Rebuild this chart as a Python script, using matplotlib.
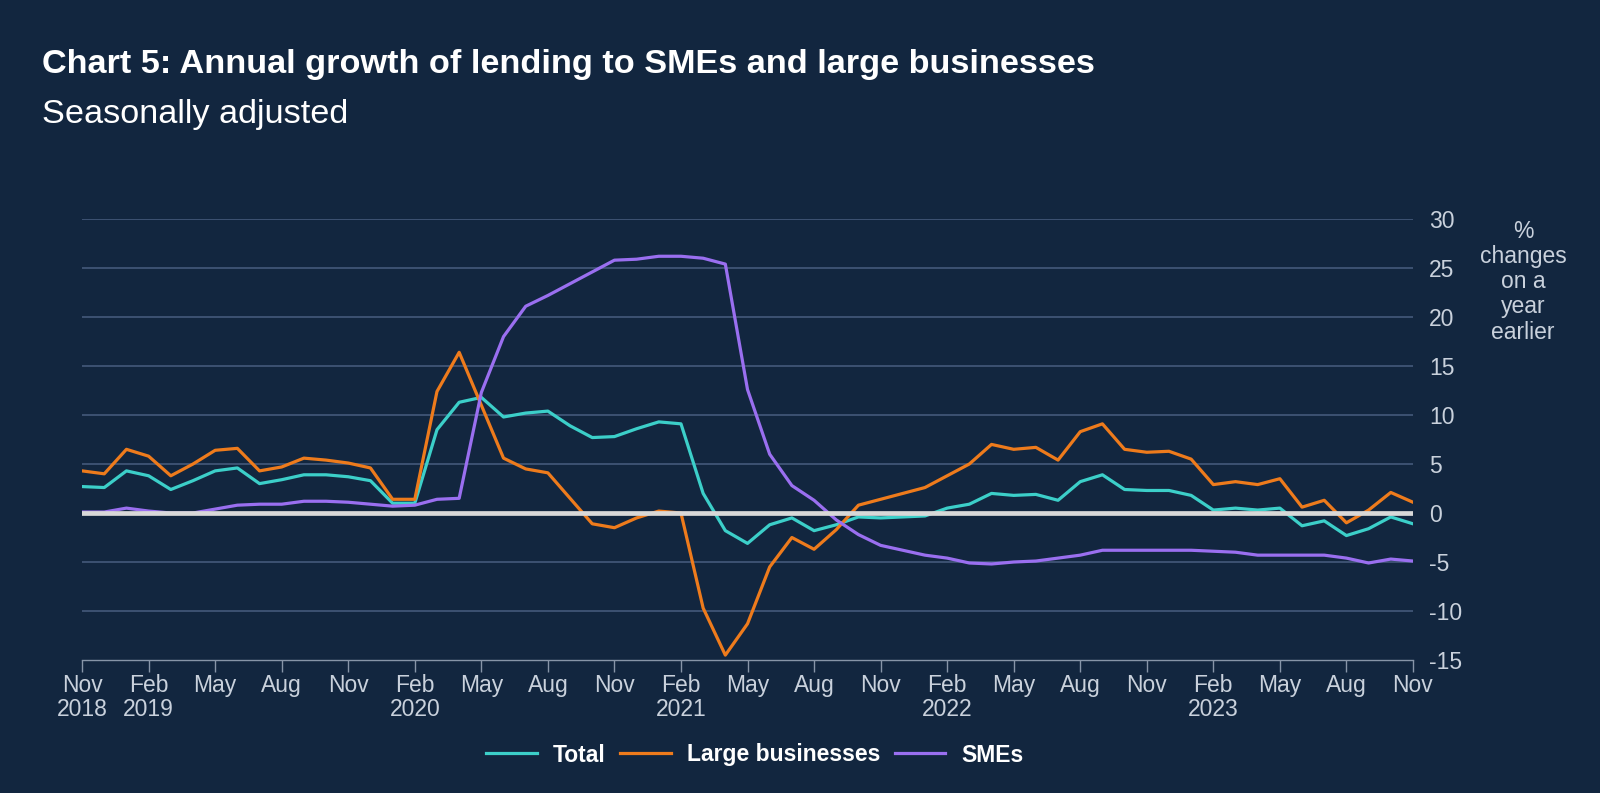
import numpy as np
import matplotlib
matplotlib.use('Agg')
import matplotlib.pyplot as plt

# monthly, Nov 2018 .. Nov 2023
total = [2.7, 2.6, 4.3, 3.8, 2.4, 3.3, 4.3, 4.6, 3.0, 3.4, 3.9, 3.9, 3.7, 3.3, 1.0, 1.0,
         8.5, 11.3, 11.8, 9.8, 10.2, 10.4, 8.9, 7.7, 7.8, 8.6, 9.3, 9.1, 2.0, -1.8,
         -3.1, -1.2, -0.5, -1.8, -1.2, -0.4, -0.5, -0.4, -0.3, 0.5, 0.9, 2.0, 1.8, 1.9,
         1.3, 3.2, 3.9, 2.4, 2.3, 2.3, 1.8, 0.3, 0.5, 0.3, 0.5, -1.3, -0.8, -2.3, -1.6,
         -0.4, -1.1]
large = [4.3, 4.0, 6.5, 5.8, 3.8, 5.0, 6.4, 6.6, 4.3, 4.7, 5.6, 5.4, 5.1, 4.6, 1.4, 1.4,
         12.4, 16.4, 11.0, 5.6, 4.5, 4.1, 1.5, -1.1, -1.5, -0.5, 0.2, 0.0, -9.7, -14.5,
         -11.3, -5.5, -2.5, -3.7, -1.7, 0.8, 1.4, 2.0, 2.6, 3.8, 5.0, 7.0, 6.5, 6.7,
         5.4, 8.3, 9.1, 6.5, 6.2, 6.3, 5.5, 2.9, 3.2, 2.9, 3.5, 0.6, 1.3, -1.0, 0.3,
         2.1, 1.1]
smes = [0.1, 0.1, 0.5, 0.2, 0.0, 0.0, 0.4, 0.8, 0.9, 0.9, 1.2, 1.2, 1.1, 0.9, 0.7, 0.8,
        1.4, 1.5, 12.3, 18.0, 21.1, 22.2, 23.4, 24.6, 25.8, 25.9, 26.2, 26.2, 26.0, 25.4,
        12.6, 6.0, 2.8, 1.3, -0.7, -2.2, -3.3, -3.8, -4.3, -4.6, -5.1, -5.2, -5.0, -4.9,
        -4.6, -4.3, -3.8, -3.8, -3.8, -3.8, -3.8, -3.9, -4.0, -4.3, -4.3, -4.3, -4.3,
        -4.6, -5.1, -4.7, -4.9]
tick_labels = ['Nov\n2018', 'Feb\n2019', 'May', 'Aug', 'Nov', 'Feb\n2020', 'May', 'Aug', 'Nov',
               'Feb\n2021', 'May', 'Aug', 'Nov', 'Feb\n2022', 'May', 'Aug', 'Nov',
               'Feb\n2023', 'May', 'Aug', 'Nov']

bg = '#12263f'
txt = '#c9d1dc'
fs = 16.5
plt.rcParams['font.family'] = ['Liberation Sans', 'DejaVu Sans']

fig = plt.figure(figsize=(16, 7.93), dpi=100, facecolor=bg)
ax = fig.add_axes([0.0513, 0.1677, 0.8318, 0.5561], facecolor=bg)

x = np.arange(len(total))
for y in range(-10, 31, 5):
	if y != 0: ax.axhline(y, color='#44597a', lw=1.2, zorder=1)
ax.axhline(0, color='#d8d8d8', lw=3.4, zorder=5)

ax.plot(x, total, color='#3ccfc9', lw=2.3, label='Total', zorder=3)
ax.plot(x, large, color='#ee7b1c', lw=2.3, label='Large businesses', zorder=3)
ax.plot(x, smes, color='#9a6ff0', lw=2.3, label='SMEs', zorder=3)

ax.set_xlim(0, 60)
ax.set_ylim(-15, 30)
ax.set_xticks(np.arange(0, 61, 3))
ax.set_xticklabels(tick_labels, fontsize=fs, color=txt, linespacing=1.05)
ax.tick_params(axis='x', length=8.5, color='#8795a8', width=1, pad=1.5)
ax.yaxis.tick_right()
ax.set_yticks(range(-15, 31, 5))
ax.set_yticklabels([str(v) for v in range(-15, 31, 5)], fontsize=fs, color=txt)
ax.tick_params(axis='y', length=0, pad=11.5)
for s in ['top', 'left', 'right']: ax.spines[s].set_visible(False)
ax.spines['bottom'].set_color('#8795a8')
ax.spines['bottom'].set_linewidth(1)

fig.text(1523/1600, 1-220/793, '%\nchanges\non a\nyear\nearlier', ha='center', va='top',
         fontsize=fs, color=txt, linespacing=1.12)

fig.text(42/1600, 1-65/793, 'Chart 5: Annual growth of lending to SMEs and large businesses',
         fontsize=24.7, fontweight='bold', color='white', va='center')
fig.text(42/1600, 1-115/793, 'Seasonally adjusted', fontsize=24.7, color='white', va='center')

leg = fig.legend(loc='center', bbox_to_anchor=(755/1600, 1-755/793), ncol=3, frameon=False,
                 fontsize=fs, handlelength=2.2, columnspacing=0.65, handletextpad=0.7)
for t in leg.get_texts():
	t.set_color('white')
	t.set_fontweight('bold')

fig.savefig('out.png', dpi=100, facecolor=bg)
